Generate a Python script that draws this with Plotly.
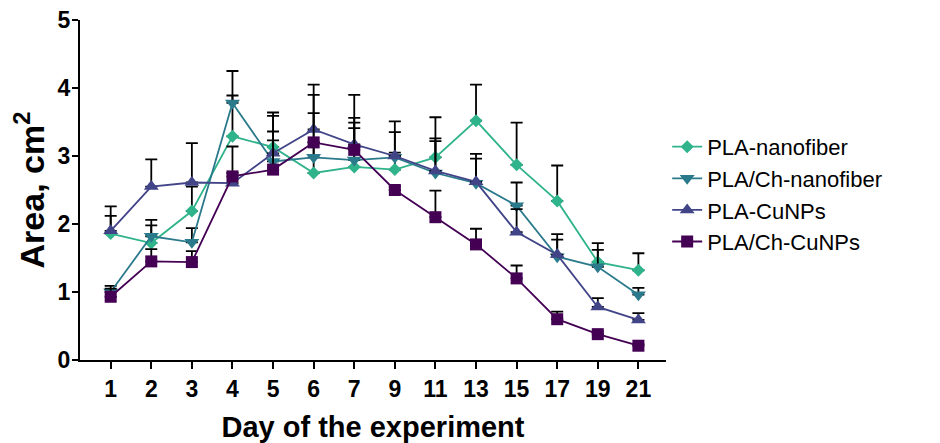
import plotly.graph_objects as go

days = ["1", "2", "3", "4", "5", "6", "7", "9", "11", "13", "15", "17", "19", "21"]

series_names = ["PLA-nanofiber", "PLA/Ch-nanofiber", "PLA-CuNPs", "PLA/Ch-CuNPs"]

pla_nanofiber = [1.86, 1.72, 2.19, 3.29, 3.13, 2.75, 2.84, 2.80, 2.98, 3.52, 2.87, 2.34, 1.44, 1.32]
pla_nanofiber_sd = [0.40, 0.26, 0.36, 0.60, 0.51, 0.45, 0.57, 0.55, 0.59, 0.53, 0.62, 0.52, 0.28, 0.25]

pla_ch_nanofiber = [1.00, 1.82, 1.73, 3.78, 2.92, 2.98, 2.94, 2.98, 2.75, 2.60, 2.27, 1.52, 1.37, 0.96]
pla_ch_nanofiber_sd = [0.09, 0.24, 0.21, 0.47, 0.44, 0.92, 0.55, 0.53, 0.47, 0.36, 0.34, 0.25, 0.25, 0.10]

pla_cunps = [1.90, 2.55, 2.61, 2.60, 3.04, 3.39, 3.17, 3.00, 2.78, 2.62, 1.88, 1.55, 0.78, 0.59]
pla_cunps_sd = [0.22, 0.40, 0.58, 0.54, 0.55, 0.66, 0.73, 0.05, 0.48, 0.41, 0.34, 0.30, 0.13, 0.10]

pla_ch_cunps = [0.93, 1.45, 1.44, 2.70, 2.80, 3.20, 3.09, 2.50, 2.10, 1.70, 1.20, 0.60, 0.38, 0.21]
pla_ch_cunps_sd = [0.12, 0.18, 0.16, 0.05, 0.43, 0.43, 0.47, 0.05, 0.39, 0.23, 0.19, 0.11, 0.04, 0.02]

y_ticks = [0, 1, 2, 3, 4, 5]

colors = ["#2fb38b", "#2a7a8c", "#414487", "#440154"]
symbols = ["diamond", "triangle-down", "triangle-up", "square"]
sizes = [10, 13, 13, 12]

means = [pla_nanofiber, pla_ch_nanofiber, pla_cunps, pla_ch_cunps]
sds = [pla_nanofiber_sd, pla_ch_nanofiber_sd, pla_cunps_sd, pla_ch_cunps_sd]

FONT = "Liberation Sans, Arial, sans-serif"

fig = go.Figure()
for name, y, sd, c, s, ms in zip(series_names, means, sds, colors, symbols, sizes):
    fig.add_trace(go.Scatter(
        x=days, y=y, name=name, mode="lines+markers",
        line=dict(color=c, width=1.8),
        marker=dict(symbol=s, size=ms, color=c),
        error_y=dict(type="data", symmetric=False, array=sd,
                     arrayminus=[0] * len(sd), color="black",
                     thickness=1.8, width=6),
    ))

fig.update_layout(
    width=932, height=435,
    margin=dict(l=72, r=274, t=12, b=83, autoexpand=False),
    plot_bgcolor="white", paper_bgcolor="white",
    font=dict(family=FONT, color="black"),
    legend=dict(x=1.002, y=0.487, xanchor="left", yanchor="middle",
                font=dict(size=22, family=FONT, color="black"),
                tracegroupgap=0, itemwidth=30),
    xaxis=dict(
        type="category", range=[-0.756, 13.68], automargin=False,
        showline=True, linecolor="black", linewidth=2,
        ticks="outside", ticklen=7, tickwidth=2, tickcolor="black",
        tickfont=dict(size=23, family=FONT, weight="bold"),
        showgrid=False, zeroline=False,
        title=dict(text="Day of the experiment",
                   font=dict(size=29, family=FONT, weight="bold"), standoff=20),
    ),
    yaxis=dict(
        range=[0, 5], tickmode="array", tickvals=y_ticks, automargin=False,
        showline=True, linecolor="black", linewidth=2,
        ticks="outside", ticklen=6, tickwidth=2, tickcolor="black",
        ticklabeloverflow="allow", ticklabelstandoff=-3,
        tickfont=dict(size=23, family=FONT, weight="bold"),
        showgrid=False, zeroline=False,
        title=dict(text="Area, cm<sup>2</sup>",
                   font=dict(size=34, family=FONT, weight="bold"), standoff=6),
    ),
)

fig.write_html("out.html")
